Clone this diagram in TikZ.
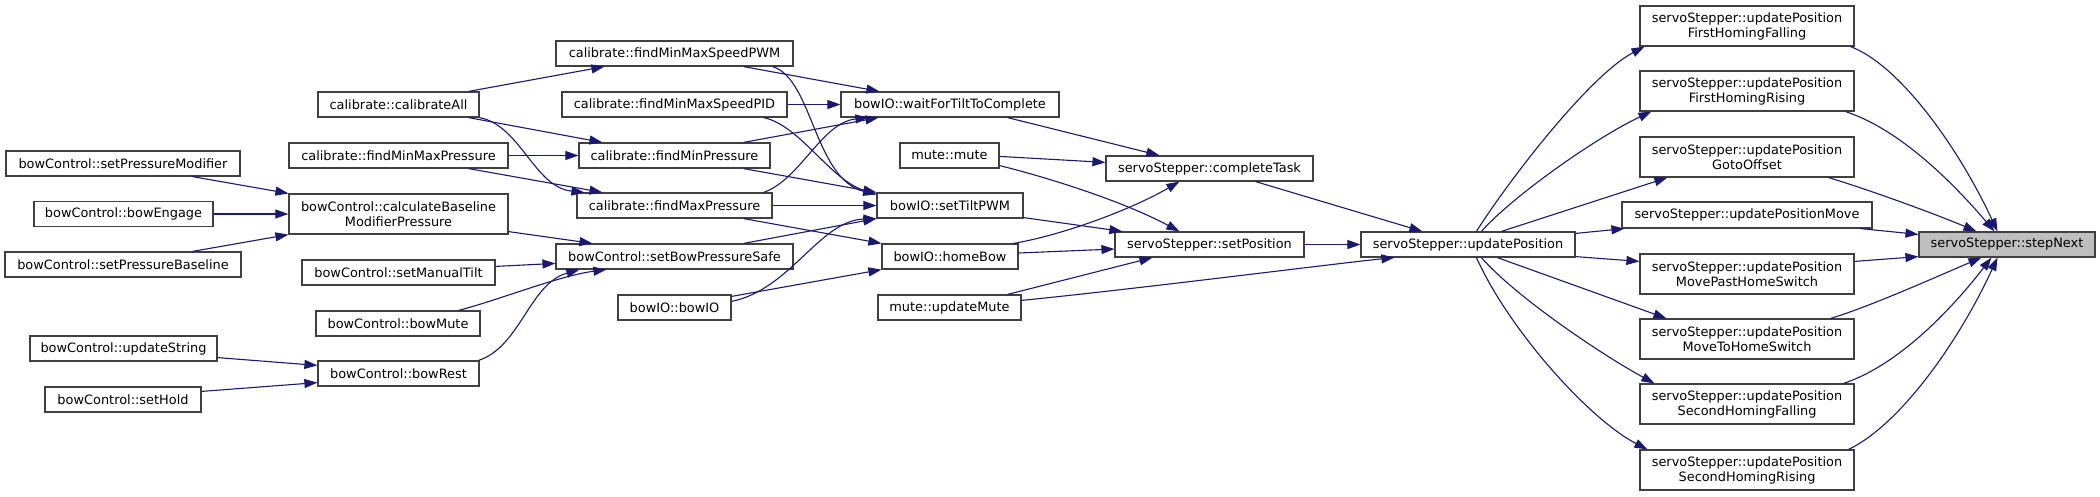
\documentclass[tikz,border=0pt]{standalone}
\usepackage{fontspec}
\setmainfont{DejaVu Sans}
\usetikzlibrary{arrows.meta,calc}
\definecolor{edgeblue}{HTML}{191970}
\definecolor{boxborder}{HTML}{404040}
\definecolor{hilite}{HTML}{BFBFBF}
\begin{document}
\begin{tikzpicture}[x=1pt,y=-1pt,
  box/.style={draw=boxborder, fill=white, line width=1.2pt, inner sep=0pt, align=center,
    minimum height=25pt, font=\fontsize{12.9}{15}\selectfont},
  tall/.style={minimum height=40pt},
  conn/.style={draw=edgeblue, line width=1.1pt, -{Triangle[length=13pt,width=9pt]}}]
\fill[white] (0,0) rectangle (2100,496);
\useasboundingbox (0,0) rectangle (2100,496);
% column 7
\node[box, fill=hilite, minimum width=176pt] (SN) at (2007,244.5) {servoStepper::stepNext};
% column 6
\node[box, tall, minimum width=214pt] (FHF) at (1747,26) {servoStepper::updatePosition\\FirstHomingFalling};
\node[box, tall, minimum width=214pt] (FHR) at (1747,91) {servoStepper::updatePosition\\FirstHomingRising};
\node[box, tall, minimum width=214pt] (GO) at (1747,157) {servoStepper::updatePosition\\GotoOffset};
\node[box, minimum width=250pt, minimum height=26pt] (MV) at (1747,215) {servoStepper::updatePositionMove};
\node[box, tall, minimum width=214pt] (MPHS) at (1747,274) {servoStepper::updatePosition\\MovePastHomeSwitch};
\node[box, tall, minimum width=214pt] (MTHS) at (1747,339) {servoStepper::updatePosition\\MoveToHomeSwitch};
\node[box, tall, minimum width=214pt] (SHF) at (1747,404) {servoStepper::updatePosition\\SecondHomingFalling};
\node[box, tall, minimum width=214pt] (SHR) at (1747,470) {servoStepper::updatePosition\\SecondHomingRising};
% column 5
\node[box, minimum width=214pt] (UP) at (1468,244.5) {servoStepper::updatePosition};
% column 4
\node[box, minimum width=207pt] (CT) at (1209.5,168.5) {servoStepper::completeTask};
\node[box, minimum width=189pt] (SP) at (1209.5,244.5) {servoStepper::setPosition};
% column 3
\node[box, minimum width=218pt] (WT) at (950,104.5) {bowIO::waitForTiltToComplete};
\node[box, minimum width=99pt] (MM) at (949.5,155.5) {mute::mute};
\node[box, minimum width=146pt] (TP) at (950,205.5) {bowIO::setTiltPWM};
\node[box, minimum width=136pt] (HB) at (950,256.5) {bowIO::homeBow};
\node[box, minimum width=143pt] (UM) at (949.5,307.5) {mute::updateMute};
% column 2
\node[box, minimum width=237pt] (PWM) at (674.5,53.5) {calibrate::findMinMaxSpeedPWM};
\node[box, minimum width=225pt] (PID) at (674.5,104.5) {calibrate::findMinMaxSpeedPID};
\node[box, minimum width=191pt] (FMinP) at (674.5,155.5) {calibrate::findMinPressure};
\node[box, minimum width=195pt] (FMaxP) at (674.5,205.5) {calibrate::findMaxPressure};
\node[box, minimum width=237pt] (BPS) at (674.5,256.5) {bowControl::setBowPressureSafe};
\node[box, minimum width=113pt] (BIO) at (674.5,307.5) {bowIO::bowIO};
% column 1
\node[box, minimum width=161pt] (CA) at (398.5,104.5) {calibrate::calibrateAll};
\node[box, minimum width=219pt] (FMMP) at (398.5,155.5) {calibrate::findMinMaxPressure};
\node[box, tall, minimum width=219pt] (CBMP) at (398.5,214) {bowControl::calculateBaseline\\ModifierPressure};
\node[box, minimum width=193pt] (SMT) at (398.5,272.5) {bowControl::setManualTilt};
\node[box, minimum width=164pt] (BM) at (398,323.5) {bowControl::bowMute};
\node[box, minimum width=161pt] (BR) at (398.5,373.5) {bowControl::bowRest};
% column 0
\node[box, minimum width=234pt] (SPM) at (123,163.5) {bowControl::setPressureModifier};
\node[box, minimum width=179pt] (BE) at (123.5,214) {bowControl::bowEngage};
\node[box, minimum width=236pt] (SPB) at (123,264.5) {bowControl::setPressureBaseline};
\node[box, minimum width=187pt] (US) at (123.5,348.5) {bowControl::updateString};
\node[box, minimum width=156pt] (SH) at (123,399.5) {bowControl::setHold};
% edges column 0 -> 1
\draw[conn] ($(SPM.south west)+(187,0)$) -- (CBMP.north west);
\draw[conn] (BE.east) -- (CBMP.west);
\draw[conn] ($(SPB.north west)+(188,0)$) -- (CBMP.south west);
\draw[conn] ($(US.south east)+(0,-4)$) -- ($(BR.north west)+(0,5)$);
\draw[conn] ($(SH.north east)+(0,5)$) -- ($(BR.south west)+(0,-4)$);
% edges column 1 -> 2
\draw[conn] ($(CA.north east)+(-11,0)$) -- ($(PWM.south west)+(49,0)$);
\draw[conn] ($(CA.south east)+(-11,0)$) -- ($(FMinP.north west)+(24,0)$);
\draw[conn] (CA.south east) .. controls +(41,8) and +(-50,-5) .. ($(FMaxP.north west)+(8,0)$);
\draw[conn] (FMMP.east) -- (FMinP.west);
\draw[conn] ($(FMMP.south east)+(-40,0)$) -- ($(FMaxP.north west)+(26,0)$);
\draw[conn] ($(CBMP.south east)+(0,-3)$) -- ($(BPS.north west)+(37,0)$);
\draw[conn] ($(SMT.north east)+(0,7)$) -- ($(BPS.north west)+(0,20)$);
\draw[conn] ($(BM.north east)+(-22,0)$) .. controls +(42,-11) and +(-47,6) .. ($(BPS.south west)+(51,0)$);
\draw[conn] ($(BR.north east)+(-1,0)$) .. controls +(42,-14) and +(-50,14) .. ($(BPS.south west)+(24,0)$);
% edges column 2 -> 3
\draw[conn] ($(PWM.south east)+(-50,0)$) -- ($(WT.north west)+(39,0)$);
\draw[conn] ($(PWM.south east)+(-21,0)$) .. controls +(40,12) and +(-62,-15) .. ($(TP.north west)+(0,2)$);
\draw[conn] (PID.east) -- (WT.west);
\draw[conn] ($(PID.south east)+(-24,0)$) .. controls +(37,8) and +(-47,-15) .. ($(TP.north west)+(0,2)$);
\draw[conn] ($(FMinP.north east)+(-27,0)$) -- ($(WT.south west)+(38,0)$);
\draw[conn] ($(FMinP.south east)+(-27,0)$) -- (TP.north west);
\draw[conn] ($(FMaxP.north east)+(-9,0)$) .. controls +(37,-13) and +(-47,5) .. ($(WT.south west)+(28,0)$);
\draw[conn] (FMaxP.east) -- (TP.west);
\draw[conn] ($(FMaxP.south east)+(-29,0)$) -- (HB.north west);
\draw[conn] ($(BPS.north east)+(-50,0)$) -- (TP.south west);
\draw[conn] ($(BIO.north east)+(0,7)$) .. controls +(59,-12) and +(-57,2) .. (TP.south west);
\draw[conn] ($(BIO.north east)+(0,2)$) -- (HB.south west);
% edges column 3 -> 4
\draw[conn] ($(WT.south east)+(-52,0)$) -- ($(CT.north west)+(54,0)$);
\draw[conn] ($(MM.north east)+(0,14)$) -- ($(CT.north west)+(0,7)$);
\draw[conn] ($(MM.south east)+(0,-3)$) .. controls +(41,10) and +(-60,-32) .. ($(SP.north west)+(65,0)$);
\draw[conn] ($(HB.north east)+(-5,0)$) .. controls +(47,-8) and +(-50,29) .. ($(CT.south west)+(74,0)$);
\draw[conn] ($(TP.south east)+(0,-1)$) -- ($(SP.north west)+(8,0)$);
\draw[conn] ($(HB.east)+(0,-3.5)$) -- ($(SP.west)+(0,4.5)$);
\draw[conn] ($(UM.north east)+(-14,0)$) -- ($(SP.south west)+(38,0)$);
\draw[conn] ($(UM.north east)+(0,6)$) .. controls +(120,-12) and +(-60,6) .. ($(UP.south west)+(34,0)$);
% edges column 4 -> 5
\draw[conn] ($(CT.south east)+(-58,0)$) -- ($(UP.north west)+(62,0)$);
\draw[conn] (SP.east) -- (UP.west);
% edges column 5 -> 6
\draw[conn] ($(UP.north west)+(116,0)$) .. controls +(33,-52) and +(-55,29) .. ($(FHF.south west)+(5,0)$);
\draw[conn] ($(UP.north west)+(121,0)$) .. controls +(33,-37) and +(-52,24) .. ($(FHR.south west)+(12,0)$);
\draw[conn] ($(UP.north west)+(141,0)$) -- ($(GO.south west)+(28,0)$);
\draw[conn] ($(UP.north east)+(0,2)$) -- ($(MV.south west)+(3,0)$);
\draw[conn] ($(UP.south east)+(0,-1)$) -- ($(MPHS.north west)+(0,8)$);
\draw[conn] ($(UP.south west)+(137,0)$) -- ($(MTHS.north west)+(27,0)$);
\draw[conn] ($(UP.south west)+(121,0)$) .. controls +(33,38) and +(-55,-30) .. ($(SHF.north west)+(15,0)$);
\draw[conn] ($(UP.south west)+(116,0)$) .. controls +(33,73) and +(-58,-30) .. ($(SHR.north west)+(8,0)$);
% edges column 6 -> 7
\draw[conn] ($(FHF.south east)+(-4,0)$) .. controls +(50,19) and +(-38,-82) .. ($(SN.north west)+(79,0)$);
\draw[conn] ($(FHR.south east)+(-9,0)$) .. controls +(55,18) and +(-40,-47) .. ($(SN.north west)+(76,0)$);
\draw[conn] ($(GO.south east)+(-26,0)$) .. controls +(40,12) and +(-40,-17) .. ($(SN.north west)+(58,0)$);
\draw[conn] ($(MV.south east)+(-12,0)$) -- ($(SN.north west)+(0,3)$);
\draw[conn] ($(MPHS.north east)+(0,8)$) -- ($(SN.south west)+(0,-1)$);
\draw[conn] ($(MTHS.north east)+(-24,0)$) .. controls +(40,-12) and +(-40,17) .. ($(SN.south west)+(63,0)$);
\draw[conn] ($(SHF.north east)+(-11,0)$) .. controls +(57,-19) and +(-37,48) .. ($(SN.south west)+(73,0)$);
\draw[conn] ($(SHR.north east)+(-6,0)$) .. controls +(52,-25) and +(-38,83) .. ($(SN.south west)+(79,0)$);
\end{tikzpicture}
\end{document}
